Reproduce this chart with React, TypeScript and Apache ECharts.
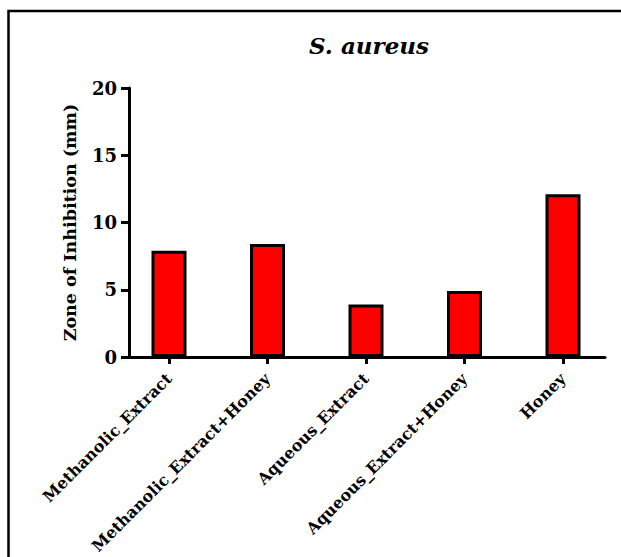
import React, { useEffect, useRef } from "react";
import * as echarts from "echarts";

const categories = [
  "Methanolic_Extract",
  "Methanolic_Extract+Honey",
  "Aqueous_Extract",
  "Aqueous_Extract+Honey",
  "Honey",
];
const values = [7.9, 8.4, 3.9, 4.9, 12.1];
const yTicks = [0, 5, 10, 15, 20];
const titleText = "S. aureus";
const yName = "Zone of Inhibition (mm)";

const FONT = "DejaVu Serif";

export default function App() {
  const ref = useRef<HTMLDivElement>(null);
  useEffect(() => {
    if (!ref.current) return;
    const chart = echarts.init(ref.current, undefined, { renderer: "svg" });
    const top = 88;
    const height = 269;
    chart.setOption({
      animation: false,
      backgroundColor: "#ffffff",
      title: {
        text: titleText,
        left: 364,
        top: 29,
        textAlign: "center",
        textStyle: {
          fontFamily: FONT,
          fontWeight: "bold",
          fontStyle: "italic",
          fontSize: 23,
          color: "#000",
        },
      },
      graphic: [
        {
          type: "polyline",
          shape: { points: [[8.5, 557], [8.5, 11], [621, 11]] },
          style: { fill: "none", stroke: "#000", lineWidth: 2.5 },
          silent: true,
        },
      ],
      grid: [
        { left: 129, top, width: 476, height, outerBoundsMode: "none" },
        { left: 119.75, top, width: 492.5, height, outerBoundsMode: "none" },
      ],
      xAxis: [
        {
          gridIndex: 0,
          type: "value",
          min: 0,
          max: 1,
          axisLine: { show: true, onZero: false, lineStyle: { color: "#000", width: 3 } },
          axisTick: { show: false },
          axisLabel: { show: false },
          splitLine: { show: false },
        },
        {
          gridIndex: 1,
          type: "category",
          data: categories,
          axisLine: { show: false },
          axisTick: {
            show: true,
            alignWithLabel: true,
            length: 7,
            lineStyle: { color: "#000", width: 3 },
          },
          axisLabel: {
            rotate: 45,
            margin: 19,
            interval: 0,
            fontFamily: FONT,
            fontWeight: "bold",
            fontSize: 16,
            color: "#000",
          },
        },
      ],
      yAxis: [
        {
          gridIndex: 0,
          type: "value",
          min: 0,
          max: 20,
          interval: 5,
          name: yName,
          nameLocation: "middle",
          nameRotate: 90,
          nameGap: 50,
          nameTextStyle: {
            fontFamily: FONT,
            fontWeight: "bold",
            fontSize: 17.5,
            color: "#000",
          },
          axisLine: { show: true, lineStyle: { color: "#000", width: 3 } },
          axisTick: { show: true, length: 8, lineStyle: { color: "#000", width: 3 } },
          axisLabel: {
            margin: 12,
            fontFamily: FONT,
            fontWeight: "bold",
            fontSize: 18,
            color: "#000",
            formatter: (v: number) => (yTicks.includes(v) ? String(v) : ""),
          },
          splitLine: { show: false },
        },
        {
          gridIndex: 1,
          type: "value",
          min: 0,
          max: 20,
          interval: 5,
          show: false,
          splitLine: { show: false },
        },
      ],
      series: [
        {
          type: "bar",
          xAxisIndex: 1,
          yAxisIndex: 1,
          data: values,
          barWidth: 35,
          itemStyle: { color: "#ff0000", borderColor: "#000", borderWidth: 3 },
        },
      ],
    });
    return () => chart.dispose();
  }, []);
  return (
    <div
      ref={ref}
      style={{ position: "absolute", left: 0, top: 0, width: 621, height: 557 }}
    />
  );
}
